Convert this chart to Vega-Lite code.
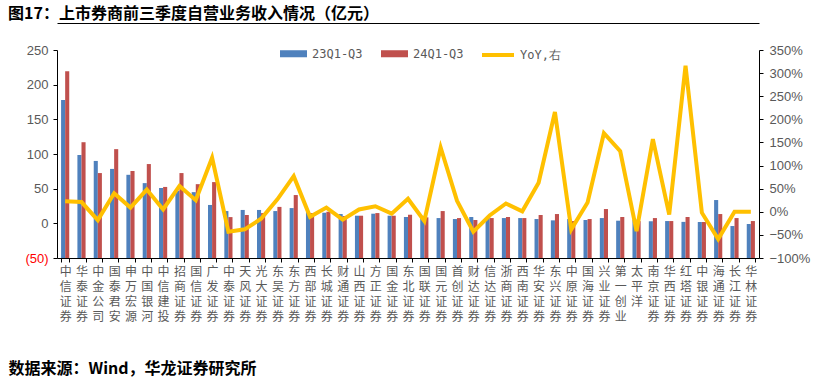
{
  "$schema": "https://vega.github.io/schema/vega-lite/v6.json",
  "width": 702,
  "height": 208,
  "autosize": {"type": "none"},
  "padding": {"left": 57, "top": 50, "right": 64, "bottom": 120},
  "background": "white",
  "title": {
    "text": "图17：上市券商前三季度自营业务收入情况（亿元）",
    "anchor": "start",
    "frame": "group",
    "dx": -49,
    "offset": 4,
    "dy": 3,
    "font": "Noto Sans CJK SC",
    "fontSize": 16,
    "fontWeight": "bold",
    "color": "#000000"
  },
  "data": {
    "values": [
      {"name": "中信证券", "23Q1-Q3": 178, "24Q1-Q3": 219.5, "yoy": 0.23},
      {"name": "华泰证券", "23Q1-Q3": 98.5, "24Q1-Q3": 117, "yoy": 0.21},
      {"name": "中金公司", "23Q1-Q3": 90, "24Q1-Q3": 72.5, "yoy": -0.18},
      {"name": "国泰君安", "23Q1-Q3": 78.5, "24Q1-Q3": 107, "yoy": 0.40},
      {"name": "申万宏源", "23Q1-Q3": 70, "24Q1-Q3": 75.5, "yoy": 0.09},
      {"name": "中国银河", "23Q1-Q3": 58, "24Q1-Q3": 85.5, "yoy": 0.48},
      {"name": "中信建投", "23Q1-Q3": 51, "24Q1-Q3": 52.5, "yoy": 0.05},
      {"name": "招商证券", "23Q1-Q3": 47, "24Q1-Q3": 72.5, "yoy": 0.56},
      {"name": "国信证券", "23Q1-Q3": 45, "24Q1-Q3": 56.5, "yoy": 0.25},
      {"name": "广发证券", "23Q1-Q3": 26.5, "24Q1-Q3": 59.5, "yoy": 1.17},
      {"name": "中泰证券", "23Q1-Q3": 17.7, "24Q1-Q3": 9, "yoy": -0.43},
      {"name": "天风证券", "23Q1-Q3": 19.3, "24Q1-Q3": 12, "yoy": -0.38},
      {"name": "光大证券", "23Q1-Q3": 19.3, "24Q1-Q3": 14.8, "yoy": -0.15},
      {"name": "东吴证券", "23Q1-Q3": 17.7, "24Q1-Q3": 23.7, "yoy": 0.27},
      {"name": "东方证券", "23Q1-Q3": 22, "24Q1-Q3": 40.8, "yoy": 0.77},
      {"name": "西部证券", "23Q1-Q3": 16.7, "24Q1-Q3": 14.8, "yoy": -0.11},
      {"name": "长城证券", "23Q1-Q3": 15.3, "24Q1-Q3": 16.7, "yoy": 0.09},
      {"name": "财通证券", "23Q1-Q3": 13.4, "24Q1-Q3": 10.5, "yoy": -0.17},
      {"name": "山西证券", "23Q1-Q3": 11, "24Q1-Q3": 11, "yoy": 0.05},
      {"name": "方正证券", "23Q1-Q3": 13.9, "24Q1-Q3": 14.8, "yoy": 0.12},
      {"name": "国金证券", "23Q1-Q3": 11, "24Q1-Q3": 11, "yoy": -0.04},
      {"name": "东北证券", "23Q1-Q3": 9.1, "24Q1-Q3": 12.4, "yoy": 0.28},
      {"name": "国联证券", "23Q1-Q3": 10.8, "24Q1-Q3": 8.6, "yoy": -0.20},
      {"name": "国元证券", "23Q1-Q3": 7.6, "24Q1-Q3": 17.7, "yoy": 1.39},
      {"name": "首创证券", "23Q1-Q3": 6.2, "24Q1-Q3": 7.6, "yoy": 0.24},
      {"name": "财达证券", "23Q1-Q3": 9.1, "24Q1-Q3": 4.8, "yoy": -0.43},
      {"name": "信达证券", "23Q1-Q3": 8.2, "24Q1-Q3": 7.6, "yoy": -0.08},
      {"name": "浙商证券", "23Q1-Q3": 7.6, "24Q1-Q3": 9.1, "yoy": 0.18},
      {"name": "西南证券", "23Q1-Q3": 7.6, "24Q1-Q3": 7.6, "yoy": 0.01},
      {"name": "华安证券", "23Q1-Q3": 6.2, "24Q1-Q3": 12, "yoy": 0.63},
      {"name": "东兴证券", "23Q1-Q3": 4.3, "24Q1-Q3": 13.4, "yoy": 2.16},
      {"name": "中原证券", "23Q1-Q3": 6.2, "24Q1-Q3": 3.3, "yoy": -0.38},
      {"name": "国海证券", "23Q1-Q3": 4.8, "24Q1-Q3": 6.2, "yoy": 0.20},
      {"name": "兴业证券", "23Q1-Q3": 7.6, "24Q1-Q3": 20.6, "yoy": 1.70},
      {"name": "第一创业", "23Q1-Q3": 3.8, "24Q1-Q3": 9.1, "yoy": 1.31},
      {"name": "太平洋", "23Q1-Q3": 5.6, "24Q1-Q3": 3.2, "yoy": -0.42},
      {"name": "南京证券", "23Q1-Q3": 3.0, "24Q1-Q3": 7.6, "yoy": 1.57},
      {"name": "华西证券", "23Q1-Q3": 3.3, "24Q1-Q3": 3.3, "yoy": -0.06},
      {"name": "红塔证券", "23Q1-Q3": 2.1, "24Q1-Q3": 9.1, "yoy": 3.16},
      {"name": "中银证券", "23Q1-Q3": 1.9, "24Q1-Q3": 1.9, "yoy": -0.02},
      {"name": "海通证券", "23Q1-Q3": 33.6, "24Q1-Q3": 13.4, "yoy": -0.59},
      {"name": "长江证券", "23Q1-Q3": -3.9, "24Q1-Q3": 7.6, "yoy": 0},
      {"name": "华林证券", "23Q1-Q3": -1, "24Q1-Q3": 3.3, "yoy": 0}
    ]
  },
  "layer": [
    {
      "transform": [{"fold": ["23Q1-Q3", "24Q1-Q3"], "as": ["series", "amount"]}],
      "mark": {"type": "bar"},
      "encoding": {
        "x": {
          "field": "name",
          "type": "nominal",
          "sort": null,
          "scale": {"paddingInner": 0.5, "paddingOuter": 0.25},
          "axis": {
            "orient": "bottom",
            "title": "数据来源：Wind，华龙证券研究所",
            "titleX": -49,
            "titleY": 115,
            "titleAlign": "left",
            "titleAnchor": "start",
            "titleBaseline": "alphabetic",
            "titleFont": "Noto Sans CJK SC",
            "titleFontSize": 16,
            "titleFontWeight": "bold",
            "titleColor": "#000000",
            "labelExpr": "split(datum.label, '')",
            "labelAngle": 0,
            "labelAlign": "center",
            "labelBaseline": "top",
            "labelFont": "Noto Sans CJK SC",
            "labelFontSize": 12,
            "labelLineHeight": 15,
            "labelColor": "#595959",
            "labelPadding": 4,
            "labelOverlap": false,
            "tickBand": "extent",
            "tickSize": 4,
            "tickColor": "#000000",
            "domainColor": "#000000"
          }
        },
        "xOffset": {"field": "series", "type": "nominal", "sort": ["23Q1-Q3", "24Q1-Q3"], "scale": {"paddingInner": 0, "paddingOuter": 0}},
        "y": {
          "field": "amount",
          "type": "quantitative",
          "scale": {"domain": [-50, 250], "nice": false, "zero": false},
          "axis": {
            "title": null,
            "values": [-50, 0, 50, 100, 150, 200, 250],
            "labelExpr": "datum.value < 0 ? '(' + abs(datum.value) + ')' : datum.label",
            "labelColor": {"condition": {"test": "datum.value < 0", "value": "#FF0000"}, "value": "#595959"},
            "labelFont": "Liberation Sans",
            "labelFontSize": 13,
            "labelPadding": 5,
            "tickSize": 4,
            "tickColor": "#000000",
            "domainColor": "#000000",
            "grid": false
          }
        },
        "y2": {"datum": -50},
        "color": {
          "field": "series",
          "type": "nominal",
          "scale": {"domain": ["23Q1-Q3", "24Q1-Q3"], "range": ["#4F81BD", "#C0504D"]},
          "legend": {
            "title": null,
            "orient": "none",
            "direction": "horizontal",
            "legendX": 223,
            "legendY": -10,
            "padding": 0,
            "symbolType": "M-1,-0.26H1V0.26H-1Z",
            "symbolSize": 729,
            "symbolStrokeWidth": 0,
            "labelFont": "DejaVu Sans Mono",
            "labelFontSize": 12,
            "labelColor": "#595959",
            "labelOffset": 5,
            "columnPadding": 18
          }
        }
      }
    },
    {
      "mark": {"type": "line", "strokeWidth": 4},
      "encoding": {
        "x": {
          "field": "name",
          "type": "nominal",
          "sort": null,
          "scale": {"paddingInner": 0.5, "paddingOuter": 0.25},
          "axis": {
            "orient": "top",
            "offset": 27,
            "labels": false,
            "ticks": true,
            "tickSize": 0,
            "domain": true,
            "domainWidth": 1,
            "domainColor": "#000000",
            "domainOpacity": 1,
            "title": null
          }
        },
        "y": {
          "field": "yoy",
          "type": "quantitative",
          "scale": {"domain": [-1, 3.5], "nice": false, "zero": false},
          "axis": {
            "orient": "right",
            "title": null,
            "values": [-1, -0.5, 0, 0.5, 1, 1.5, 2, 2.5, 3, 3.5],
            "format": ".0%",
            "labelFont": "Liberation Sans",
            "labelFontSize": 13,
            "labelColor": "#595959",
            "labelPadding": 6,
            "tickSize": 4,
            "tickColor": "#000000",
            "domainColor": "#000000",
            "grid": false
          }
        },
        "stroke": {
          "datum": "YoY,右",
          "scale": {"range": ["#FFC000"]},
          "legend": {
            "title": null,
            "orient": "none",
            "legendX": 423,
            "legendY": -13,
            "padding": 0,
            "symbolType": "stroke",
            "symbolSize": 1024,
            "symbolStrokeWidth": 4,
            "labelFont": "DejaVu Sans Mono",
            "labelFontSize": 12,
            "labelColor": "#595959",
            "labelOffset": 4
          }
        }
      }
    }
  ],
  "resolve": {"scale": {"x": "independent", "y": "independent", "color": "independent", "stroke": "independent"}, "axis": {"x": "independent"}},
  "config": {
    "view": {"stroke": null},
    "axis": {"domainWidth": 1, "tickWidth": 1}
  }
}
